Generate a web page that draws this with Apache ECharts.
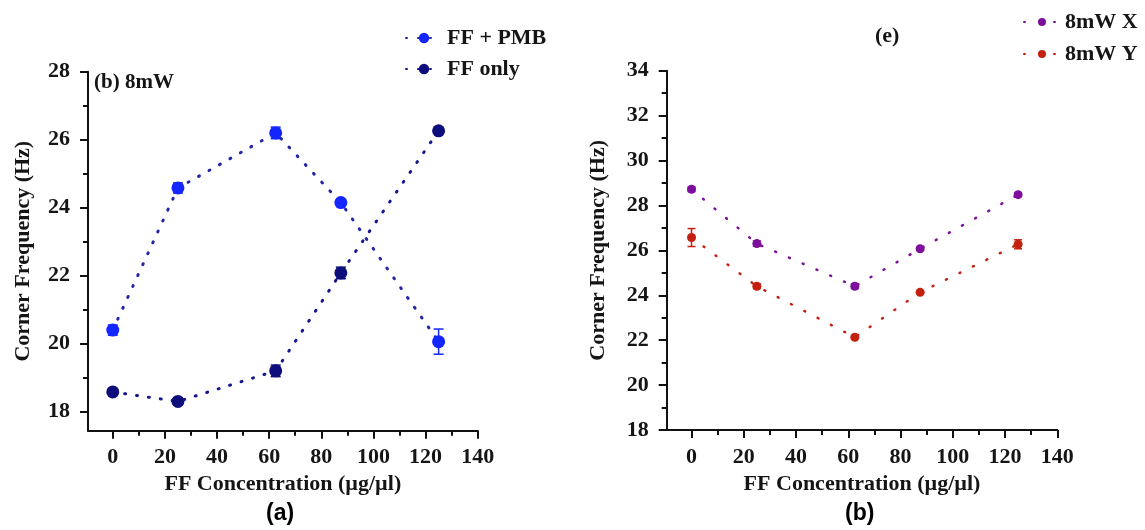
<!DOCTYPE html>
<html>
<head>
<meta charset="utf-8">
<script src="https://cdn.jsdelivr.net/npm/echarts@6.0.0/dist/echarts.min.js"></script>
<style>html,body{margin:0;padding:0;background:#fff;}#c{width:1145px;height:530px;}</style>
</head>
<body>
<div id="c"></div>
<script>
// ---- data ----
const concentration = [0, 25, 62.5, 87.5, 125];
const ffPmb = [20.4, 24.58, 26.2, 24.15, 20.06];
const ffPmbErr = [0.15, 0.15, 0.17, 0.06, 0.37];
const ffOnly = [18.58, 18.3, 19.2, 22.08, 26.26];
const ffOnlyErr = [0.05, 0.1, 0.17, 0.17, 0.05];
const x8mW = [28.72, 26.3, 24.4, 26.07, 28.48];
const x8mWErr = [0.1, 0.12, 0.1, 0.07, 0.08];
const y8mW = [26.57, 24.4, 22.13, 24.13, 26.27];
const y8mWErr = [0.4, 0.1, 0.06, 0.06, 0.2];

const xMajorTicks = [0, 20, 40, 60, 80, 100, 120, 140];
const xMinorTicks = [10, 30, 50, 70, 90, 110, 130];
const yLeftMajor = [18, 20, 22, 24, 26, 28];
const yLeftMinor = [19, 21, 23, 25, 27];
const yRightMajor = [18, 20, 22, 24, 26, 28, 30, 32, 34];
const yRightMinor = [19, 21, 23, 25, 27, 29, 31, 33];

const seriesNames = ['FF + PMB', 'FF only', '8mW X', '8mW Y'];
const xName = 'FF Concentration (µg/µl)';
const yName = 'Corner Frequency (Hz)';

// ---- style ----
const SERIF = '"Liberation Serif", "Times New Roman", serif';
const TXT = '#151515';
const C_PMB = '#1426ff', C_PMB_LINE = '#2424a8';
const C_ONLY = '#0d0d7c', C_ONLY_LINE = '#16168e';
const C_X = '#7d0f9c', C_Y = '#c4200f';

function pairs(ys) { return concentration.map((x, i) => [x, ys[i]]); }
function triples(ys, es) { return concentration.map((x, i) => [x, ys[i], es[i]]); }

function errSeries(ys, es, color, xi, yi, capW, lw) {
  return {
    type: 'custom', xAxisIndex: xi, yAxisIndex: yi, z: 3, silent: true,
    data: triples(ys, es),
    renderItem: function (params, api) {
      const x = api.value(0), y = api.value(1), e = api.value(2);
      const t = api.coord([x, y + e]), b = api.coord([x, y - e]);
      const st = { stroke: color, lineWidth: lw };
      return { type: 'group', children: [
        { type: 'line', shape: { x1: t[0], y1: t[1], x2: b[0], y2: b[1] }, style: st },
        { type: 'line', shape: { x1: t[0] - capW, y1: t[1], x2: t[0] + capW, y2: t[1] }, style: st },
        { type: 'line', shape: { x1: b[0] - capW, y1: b[1], x2: b[0] + capW, y2: b[1] }, style: st }
      ]};
    }
  };
}

function lineSeries(name, ys, color, lineColor, xi, yi, size, lw, dash) {
  return {
    name: name, type: 'line', xAxisIndex: xi, yAxisIndex: yi, z: 4,
    data: pairs(ys), symbol: 'circle', symbolSize: size,
    itemStyle: { color: color },
    lineStyle: { color: lineColor, width: lw, type: dash, cap: 'round' },
    emphasis: { disabled: true }, animation: false
  };
}

const axisLineStyle = { color: '#111', width: 2 };
function xAxes(gi) {
  return [
    { type: 'value', gridIndex: gi, min: -9.5, max: 140, position: 'bottom', offset: 0,
      name: xName, nameLocation: 'middle', nameGap: 40,
      nameTextStyle: { fontFamily: SERIF, fontWeight: 'bold', fontSize: 22, color: TXT },
      axisLine: { show: true, lineStyle: axisLineStyle, onZero: false },
      axisTick: { show: true, customValues: xMajorTicks, length: 8, inside: false, lineStyle: { color: '#111', width: 2 } },
      axisLabel: { customValues: xMajorTicks, margin: 16, fontFamily: SERIF, fontWeight: 'bold', fontSize: 22, color: TXT, showMinLabel: true, showMaxLabel: true },
      splitLine: { show: false } },
    { type: 'value', gridIndex: gi, min: -9.5, max: 140, position: 'bottom', offset: 0,
      axisLine: { show: false, onZero: false },
      axisTick: { show: true, customValues: xMinorTicks, length: 5, lineStyle: { color: '#111', width: 2 } },
      axisLabel: { show: false }, splitLine: { show: false } }
  ];
}
function yAxes(gi, min, max, major, minor, gap) {
  return [
    { type: 'value', gridIndex: gi, min: min, max: max, position: 'left', offset: 0,
      name: yName, nameLocation: 'middle', nameGap: gap, nameRotate: 90,
      nameTextStyle: { fontFamily: SERIF, fontWeight: 'bold', fontSize: 22, color: TXT },
      axisLine: { show: true, lineStyle: axisLineStyle, onZero: false },
      axisTick: { show: true, customValues: major, length: 8, lineStyle: { color: '#111', width: 2 } },
      axisLabel: { customValues: major, margin: 18, fontFamily: SERIF, fontWeight: 'bold', fontSize: 22, color: TXT, showMinLabel: true, showMaxLabel: true },
      splitLine: { show: false } },
    { type: 'value', gridIndex: gi, min: min, max: max, position: 'left', offset: 0,
      axisLine: { show: false, onZero: false },
      axisTick: { show: true, customValues: minor, length: 5, lineStyle: { color: '#111', width: 2 } },
      axisLabel: { show: false }, splitLine: { show: false } }
  ];
}

const chart = echarts.init(document.getElementById('c'), null, { renderer: 'canvas' });
chart.setOption({
  backgroundColor: '#ffffff',
  animation: false,
  grid: [
    { left: 88, right: 1145 - 477.7, top: 71.7, bottom: 530 - 430.7, containLabel: false },
    { left: 666.7, right: 1145 - 1057.3, top: 70.7, bottom: 530 - 430, containLabel: false }
  ],
  xAxis: [].concat(xAxes(0), xAxes(1)),
  yAxis: [].concat(yAxes(0, 17.44, 28, yLeftMajor, yLeftMinor, 54), yAxes(1, 18, 34, yRightMajor, yRightMinor, 57)),
  legend: [
    { data: [seriesNames[0], seriesNames[1]], orient: 'vertical', left: 400, top: 22, itemGap: 9,
      itemWidth: 36, itemHeight: 13, selectedMode: false,
      textStyle: { fontFamily: SERIF, fontWeight: 'bold', fontSize: 22, color: TXT } },
    { data: [seriesNames[2], seriesNames[3]], orient: 'vertical', left: 1018, top: 6, itemGap: 10,
      itemWidth: 36, itemHeight: 10, selectedMode: false,
      textStyle: { fontFamily: SERIF, fontWeight: 'bold', fontSize: 22, color: TXT } }
  ],
  graphic: [
    { type: 'text', left: 94, top: 72, style: { text: '(b) 8mW', font: 'bold 21px ' + SERIF, fill: TXT } },
    { type: 'text', left: 875, top: 25, style: { text: '(e)', font: 'bold 22px ' + SERIF, fill: TXT } },
    { type: 'text', left: 266, top: 502, style: { text: '(a)', font: 'bold 23px "Liberation Sans", Arial, sans-serif', fill: '#000' } },
    { type: 'text', left: 845, top: 502, style: { text: '(b)', font: 'bold 23px "Liberation Sans", Arial, sans-serif', fill: '#000' } }
  ],
  series: [
    lineSeries(seriesNames[0], ffPmb, C_PMB, C_PMB_LINE, 0, 0, 13, 3, [1, 11]),
    errSeries(ffPmb, ffPmbErr, C_PMB, 0, 0, 5, 1.5),
    lineSeries(seriesNames[1], ffOnly, C_ONLY, C_ONLY_LINE, 0, 0, 13, 3, [1, 11]),
    errSeries(ffOnly, ffOnlyErr, C_ONLY, 0, 0, 5, 1.5),
    lineSeries(seriesNames[2], x8mW, C_X, C_X, 2, 2, 9, 2.5, [1, 14]),
    errSeries(x8mW, x8mWErr, C_X, 2, 2, 4, 1.5),
    lineSeries(seriesNames[3], y8mW, C_Y, C_Y, 2, 2, 9, 2.5, [1, 14]),
    errSeries(y8mW, y8mWErr, C_Y, 2, 2, 4, 1.5)
  ]
});
</script>
</body>
</html>
